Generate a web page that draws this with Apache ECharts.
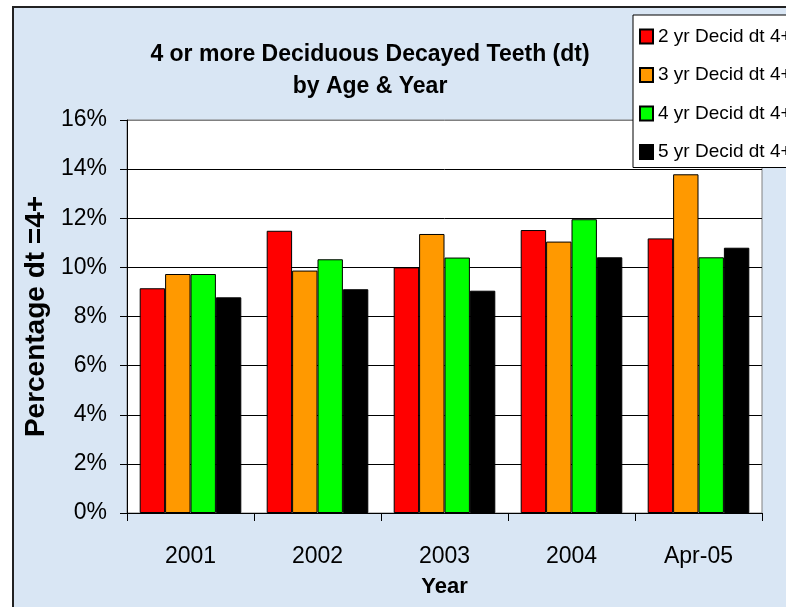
<!DOCTYPE html>
<html>
<head>
<meta charset="utf-8">
<script src="https://cdn.jsdelivr.net/npm/echarts@6/dist/echarts.min.js"></script>
<style>
  html, body { margin: 0; padding: 0; background: #ffffff; }
  #chart { width: 786px; height: 607px; }
</style>
</head>
<body>
<div id="chart"></div>
<script>
// data (percent)
var years = ['2001', '2002', '2003', '2004', 'Apr-05'];
var seriesNames = ['2 yr Decid dt 4+', '3 yr Decid dt 4+', '4 yr Decid dt 4+', '5 yr Decid dt 4+'];
var age2 = [9.15, 11.49, 10.0, 11.52, 11.18];
var age3 = [9.73, 9.87, 11.36, 11.05, 13.79];
var age4 = [9.73, 10.33, 10.4, 11.96, 10.41];
var age5 = [8.78, 9.11, 9.05, 10.41, 10.8];
var barColors = ['#ff0000', '#ff9900', '#00ff00', '#000000'];

var sans = "'Liberation Sans', Arial, sans-serif";

var myChart = echarts.init(document.getElementById('chart'));

function barSeries(name, data, color) {
	return {
		name: name,
		type: 'bar',
		data: data,
		barGap: '0%',
		barCategoryGap: '20%',
		itemStyle: {
			color: color,
			borderColor: '#000000',
			borderWidth: 1
		}
	};
}

var option = {
	backgroundColor: '#ffffff',
	animation: false,
	graphic: [{
		type: 'rect',
		z: -100,
		shape: { x: 13, y: 7, width: 800, height: 650 },
		style: { fill: '#d9e6f4', stroke: '#222222', lineWidth: 2 }
	}],
	title: {
		text: '4 or more Deciduous Decayed Teeth (dt)\nby Age & Year',
		left: 365,
		top: 34,
		textAlign: 'center',
		textStyle: {
			fontFamily: sans,
			fontWeight: 'bold',
			fontSize: 23,
			lineHeight: 32,
			color: '#000000'
		}
	},
	legend: {
		orient: 'vertical',
		left: 633,
		top: 15,
		data: seriesNames,
		icon: 'rect',
		itemWidth: 13,
		itemHeight: 14,
		itemGap: 19.5,
		padding: [12, 30, 6, 6],
		backgroundColor: '#ffffff',
		borderColor: '#000000',
		borderWidth: 1,
		borderRadius: 0,
		textStyle: {
			fontFamily: sans,
			fontSize: 19,
			color: '#000000'
		}
	},
	grid: {
		left: 127,
		right: 24,
		top: 120,
		bottom: 94,
		show: true,
		backgroundColor: '#ffffff',
		borderColor: '#808080',
		borderWidth: 1
	},
	xAxis: {
		type: 'category',
		data: years,
		name: 'Year',
		nameLocation: 'middle',
		nameGap: 63,
		nameTextStyle: {
			fontFamily: sans,
			fontWeight: 'bold',
			fontSize: 22,
			color: '#000000'
		},
		axisLine: { lineStyle: { color: '#000000', width: 1 } },
		axisTick: { show: true, length: 8, lineStyle: { color: '#000000' } },
		axisLabel: {
			fontFamily: sans,
			fontSize: 23,
			color: '#000000',
			margin: 32
		},
		splitLine: { show: false }
	},
	yAxis: {
		type: 'value',
		min: 0,
		max: 16,
		interval: 2,
		name: 'Percentage dt =4+',
		nameLocation: 'middle',
		nameRotate: 90,
		nameGap: 66,
		nameTextStyle: {
			fontFamily: sans,
			fontWeight: 'bold',
			fontSize: 28,
			color: '#000000'
		},
		axisLine: { show: true, lineStyle: { color: '#000000', width: 1 } },
		axisTick: { show: true, length: 7, lineStyle: { color: '#000000' } },
		axisLabel: {
			formatter: '{value}%',
			fontFamily: sans,
			fontSize: 23,
			color: '#000000',
			margin: 20
		},
		splitLine: {
			show: true,
			lineStyle: {
				color: ['#000000', '#000000', '#000000', '#000000', '#000000', '#000000', '#000000', '#000000', '#808080'],
				width: 1
			}
		}
	},
	series: [
		barSeries(seriesNames[0], age2, barColors[0]),
		barSeries(seriesNames[1], age3, barColors[1]),
		barSeries(seriesNames[2], age4, barColors[2]),
		barSeries(seriesNames[3], age5, barColors[3])
	]
};

myChart.setOption(option);
</script>
</body>
</html>
